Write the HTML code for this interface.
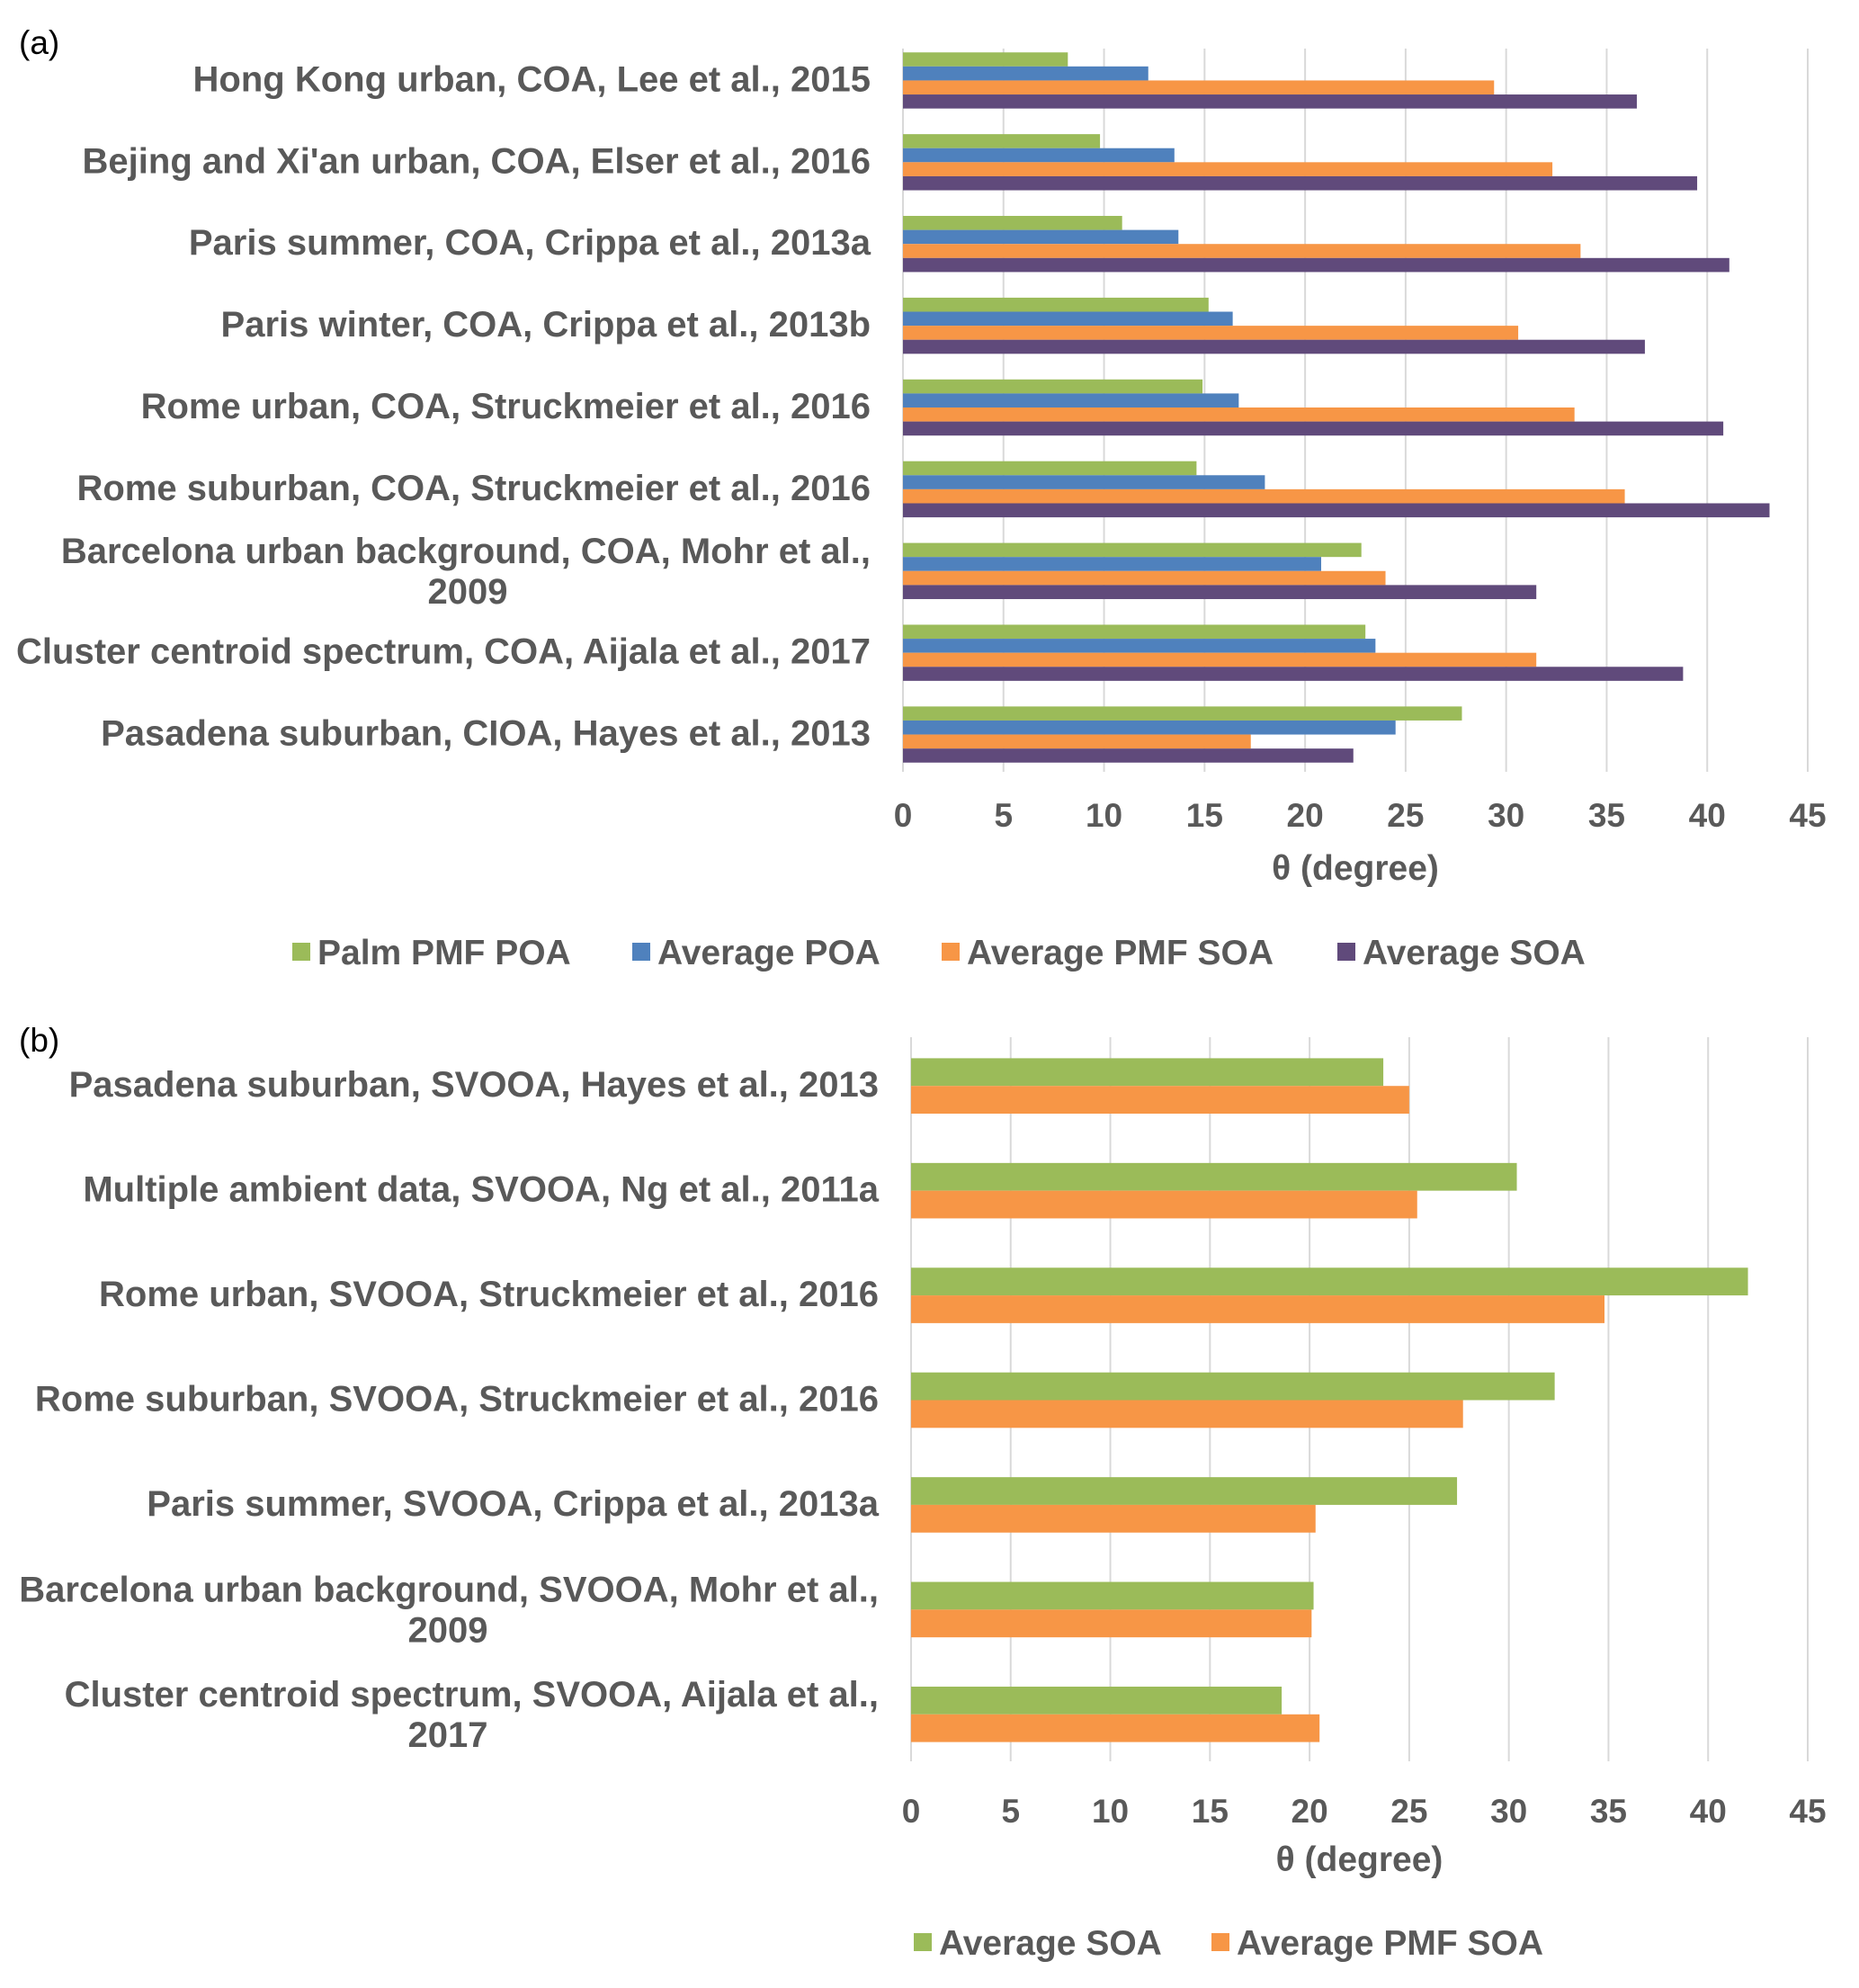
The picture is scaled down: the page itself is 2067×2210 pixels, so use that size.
<!DOCTYPE html>
<html><head><meta charset="utf-8">
<style>
html,body{margin:0;padding:0;background:#fff;}
svg{display:block;font-family:"Liberation Sans",Arial,sans-serif;}
</style></head>
<body>
<svg id="fig" width="2067" height="2210" viewBox="0 0 2067 2210" xmlns="http://www.w3.org/2000/svg"></svg>
<script>
// Panel (a) data
const catsA = [
  ["Hong Kong urban, COA, Lee et al., 2015"],
  ["Bejing and Xi'an urban, COA, Elser et al., 2016"],
  ["Paris summer, COA, Crippa et al., 2013a"],
  ["Paris winter, COA, Crippa et al., 2013b"],
  ["Rome urban, COA, Struckmeier et al., 2016"],
  ["Rome suburban, COA, Struckmeier et al., 2016"],
  ["Barcelona urban background, COA, Mohr et al.,","2009"],
  ["Cluster centroid spectrum, COA, Aijala et al., 2017"],
  ["Pasadena suburban, CIOA, Hayes et al., 2013"]
];
const palmPOA = [8.2, 9.8, 10.9, 15.2, 14.9, 14.6, 22.8, 23.0, 27.8];
const avgPOA = [12.2, 13.5, 13.7, 16.4, 16.7, 18.0, 20.8, 23.5, 24.5];
const avgPMFSOA_A = [29.4, 32.3, 33.7, 30.6, 33.4, 35.9, 24.0, 31.5, 17.3];
const avgSOA_A = [36.5, 39.5, 41.1, 36.9, 40.8, 43.1, 31.5, 38.8, 22.4];
// Panel (b) data
const catsB = [
  ["Pasadena suburban, SVOOA, Hayes et al., 2013"],
  ["Multiple ambient data, SVOOA, Ng et al., 2011a"],
  ["Rome urban, SVOOA, Struckmeier et al., 2016"],
  ["Rome suburban, SVOOA, Struckmeier et al., 2016"],
  ["Paris summer, SVOOA, Crippa et al., 2013a"],
  ["Barcelona urban background, SVOOA, Mohr et al.,","2009"],
  ["Cluster centroid spectrum, SVOOA, Aijala et al.,","2017"]
];
const avgSOA_B = [23.7, 30.4, 42.0, 32.3, 27.4, 20.2, 18.6];
const avgPMFSOA_B = [25.0, 25.4, 34.8, 27.7, 20.3, 20.1, 20.5];
const ticks = [0,5,10,15,20,25,30,35,40,45];

const NS="http://www.w3.org/2000/svg";
const svg=document.getElementById('fig');
const TXT="#595959";
const LF=40;
function el(tag,attrs,parent){const e=document.createElementNS(NS,tag);for(const k in attrs)e.setAttribute(k,attrs[k]);(parent||svg).appendChild(e);return e;}

function panel(cfg){
  const g=el('g',{});
  
  
  const xs=v=>cfg.x0+(v/45)*(cfg.x1-cfg.x0);
  const band=(cfg.y1-cfg.y0)/cfg.cats.length;
  ticks.forEach(t=>{
    const l=el('line',{x1:xs(t),x2:xs(t),y1:cfg.gy0,y2:cfg.gy1,stroke:'#d9d9d9','stroke-width':2},g);
    
    
    const tx=el('text',{x:xs(t),y:cfg.tickY,'text-anchor':'middle','font-size':37,'font-weight':'bold',fill:TXT},g);
    tx.textContent=t;
    
    
  });
  const nS=cfg.series.length;
  const groupH=cfg.barH*nS;
  cfg.cats.forEach((c,i)=>{
    const cy=cfg.y0+band*(i+0.5);
    const top=cy-groupH/2;
    cfg.series.forEach((s,j)=>{
      const r=el('rect',{x:xs(0),y:top+j*cfg.barH,width:xs(s.vals[i])-xs(0),height:cfg.barH,fill:s.color},g);
      
      
    });
    const t=el('text',{'font-size':LF,'font-weight':'bold',fill:TXT},g);
    
    
    if(c.length===1){
      t.setAttribute('x',cfg.labelX);t.setAttribute('y',cy+12);t.setAttribute('text-anchor','end');
      t.textContent=c[0];
    } else {
      t.setAttribute('x',cfg.labelX);t.setAttribute('y',cy-9);t.setAttribute('text-anchor','end');
      t.textContent=c[0];
      const t2=el('text',{x:cfg.wrapX,y:cy+36,'text-anchor':'middle','font-size':LF,'font-weight':'bold',fill:TXT},g);
      t2.textContent=c[1];
      
      
    }
  });
  const at=el('text',{x:(cfg.x0+cfg.x1)/2,y:cfg.titleY,'text-anchor':'middle','font-size':39,'font-weight':'bold',fill:TXT},g);
  at.textContent='θ (degree)';
  
  
  cfg.legend.forEach((L,k)=>{
    const lg=el('g',{},g);
    
    
    el('rect',{x:L.x,y:cfg.legendY-10,width:20,height:20,fill:L.color},lg);
    const lt=el('text',{x:L.x+28,y:cfg.legendY+14,'font-size':39,'font-weight':'bold',fill:TXT},lg);
    lt.textContent=L.label;
  });
}

const G="#9BBB59",B="#4F81BD",O="#F79646",P="#604A7B";
panel({name:'chart-a',cats:catsA,x0:1004,x1:2010,y0:44,y1:862,gy0:54,gy1:858,barH:15.6,labelX:968,wrapX:520,tickY:919,titleY:978,legendY:1058,
  series:[{key:'palm-pmf-poa',vals:palmPOA,color:G},{key:'average-poa',vals:avgPOA,color:B},{key:'average-pmf-soa',vals:avgPMFSOA_A,color:O},{key:'average-soa',vals:avgSOA_A,color:P}],
  legend:[{key:'palm-pmf-poa',x:325,color:G,label:'Palm PMF POA'},{key:'average-poa',x:703,color:B,label:'Average POA'},{key:'average-pmf-soa',x:1047,color:O,label:'Average PMF SOA'},{key:'average-soa',x:1487,color:P,label:'Average SOA'}]});
panel({name:'chart-b',cats:catsB,x0:1013,x1:2010,y0:1149,y1:1964,gy0:1153,gy1:1958,barH:30.8,labelX:977,wrapX:498,tickY:2026,titleY:2080,legendY:2159,
  series:[{key:'average-soa',vals:avgSOA_B,color:G},{key:'average-pmf-soa',vals:avgPMFSOA_B,color:O}],
  legend:[{key:'average-soa',x:1016,color:G,label:'Average SOA'},{key:'average-pmf-soa',x:1347,color:O,label:'Average PMF SOA'}]});

const la=el('text',{x:21,y:60,'font-size':37,fill:'#000'});la.textContent='(a)';


const lb=el('text',{x:21,y:1169,'font-size':37,fill:'#000'});lb.textContent='(b)';


</script>
</body></html>
